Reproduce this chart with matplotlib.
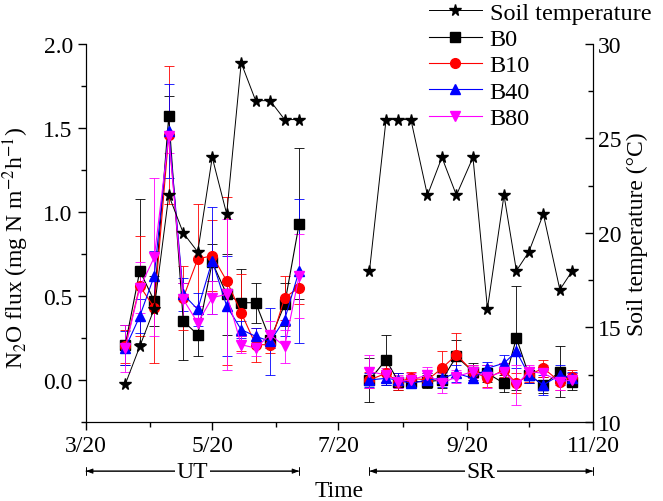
import matplotlib
matplotlib.use('Agg')
import matplotlib.pyplot as plt
import matplotlib.dates as mdates
from matplotlib.ticker import MultipleLocator, FuncFormatter
import pandas as pd

plt.rcParams['font.family'] = ['Liberation Serif', 'DejaVu Serif']
plt.rcParams['mathtext.fontset'] = 'stix'

# sampling dates, upland period (UT) and second period (SR)
ut_dates = ['4/8', '4/15', '4/22', '4/29', '5/6', '5/13', '5/20', '5/27',
            '6/3', '6/10', '6/17', '6/24', '7/1']
sr_dates = ['8/4', '8/12', '8/18', '8/24', '9/1', '9/8', '9/15', '9/23',
            '9/30', '10/8', '10/14', '10/20', '10/27', '11/4', '11/10']

# soil temperature (deg C)
ut_temp = [12, 14, 16, 22, 20, 19, 24, 21, 29, 27, 27, 26, 26]
sr_temp = [18, 26, 26, 26, 22, 24, 22, 24, 16, 22, 18, 19, 21, 17, 18]

# N2O flux (mg N m-2 h-1), mean and error
ut_b0 = [0.21, 0.65, 0.47, 1.57, 0.35, 0.27, 0.70, 0.51, 0.46, 0.46, 0.24, 0.45, 0.93]
ut_b0_err = [0.12, 0.43, 0.15, 0.12, 0.23, 0.13, 0.11, 0.24, 0.2, 0.12, 0.05, 0.13, 0.45]
ut_b10 = [0.20, 0.56, 0.43, 1.46, 0.49, 0.72, 0.74, 0.59, 0.40, 0.21, 0.21, 0.49, 0.55]
ut_b10_err = [0.1, 0.3, 0.33, 0.41, 0.19, 0.33, 0.21, 0.5, 0.23, 0.1, 0.05, 0.13, 0.1]
ut_b40 = [0.19, 0.38, 0.62, 1.48, 0.51, 0.42, 0.71, 0.44, 0.30, 0.26, 0.23, 0.36, 0.65]
ut_b40_err = [0.1, 0.1, 0.15, 0.28, 0.1, 0.1, 0.32, 0.3, 0.05, 0.05, 0.2, 0.1, 0.43]
ut_b80 = [0.19, 0.55, 0.73, 1.45, 0.48, 0.34, 0.49, 0.51, 0.21, 0.19, 0.27, 0.20, 0.62]
ut_b80_err = [0.14, 0.15, 0.47, 0.1, 0.1, 0.1, 0.1, 0.45, 0.05, 0.05, 0.08, 0.1, 0.25]

sr_b0 = [0.0, 0.12, -0.01, -0.01, -0.01, 0.0, 0.14, 0.05, 0.04, -0.02, 0.25, 0.03, -0.03, 0.05, -0.01]
sr_b0_err = [0.13, 0.15, 0.05, 0.04, 0.04, 0.05, 0.1, 0.05, 0.05, 0.05, 0.31, 0.05, 0.05, 0.15, 0.05]
sr_b10 = [0.0, 0.04, -0.01, 0.01, 0.0, 0.07, 0.15, 0.05, 0.01, 0.06, -0.02, 0.03, 0.07, -0.01, 0.02]
sr_b10_err = [0.05, 0.05, 0.05, 0.04, 0.04, 0.1, 0.13, 0.04, 0.05, 0.04, 0.06, 0.04, 0.05, 0.05, 0.04]
sr_b40 = [0.0, 0.01, 0.0, -0.02, 0.0, 0.01, 0.04, 0.01, 0.07, 0.10, 0.17, 0.03, -0.03, 0.03, 0.01]
sr_b40_err = [0.04, 0.04, 0.04, 0.03, 0.04, 0.05, 0.05, 0.03, 0.04, 0.05, 0.1, 0.05, 0.06, 0.06, 0.04]
sr_b80 = [0.05, 0.03, -0.01, 0.0, 0.03, -0.02, 0.02, 0.05, 0.02, 0.05, -0.03, 0.05, 0.04, -0.01, 0.0]
sr_b80_err = [0.1, 0.04, 0.04, 0.04, 0.05, 0.06, 0.04, 0.04, 0.07, 0.05, 0.12, 0.04, 0.05, 0.05, 0.04]


def to_dates(labels):
    return pd.to_datetime(['2015/' + d for d in labels], format='%Y/%m/%d')


ut_x = to_dates(ut_dates)
sr_x = to_dates(sr_dates)

series = [
    ('B0', 'black', 's', 6.5, ut_b0, ut_b0_err, sr_b0, sr_b0_err),
    ('B10', 'red', 'o', 7, ut_b10, ut_b10_err, sr_b10, sr_b10_err),
    ('B40', 'blue', '^', 7, ut_b40, ut_b40_err, sr_b40, sr_b40_err),
    ('B80', 'magenta', 'v', 7, ut_b80, ut_b80_err, sr_b80, sr_b80_err),
]

fig = plt.figure(figsize=(6.63, 5.02), dpi=100)
ax = fig.add_axes([0.1297, 0.1574, 0.7647, 0.753])
ax2 = ax.twinx()

handles = []
for name, color, marker, ms, ut_v, ut_e, sr_v, sr_e in series:
    for x, v, e in ((ut_x, ut_v, ut_e), (sr_x, sr_v, sr_e)):
        h = ax.errorbar(x, v, yerr=e, color=color, marker=marker, ms=ms,
                        lw=0.8, elinewidth=0.6, capsize=3.5, capthick=0.6,
                        label=name)
    handles.append(h[0])

for x, t in ((ut_x, ut_temp), (sr_x, sr_temp)):
    st, = ax2.plot(x, t, color='black', marker='*', ms=8.5, lw=0.7,
                   label='Soil temperature')

ax.set_xlim(pd.Timestamp('2015-03-20'), pd.Timestamp('2015-11-20'))
ax.set_ylim(-0.25, 2.0)
ax2.set_ylim(10, 30)

ax.xaxis.set_major_locator(mdates.MonthLocator(bymonth=[3, 5, 7, 9, 11], bymonthday=20))
ax.xaxis.set_minor_locator(mdates.MonthLocator(bymonthday=20))
ax.xaxis.set_major_formatter(FuncFormatter(lambda v, p: '%d/20' % mdates.num2date(v).month))
ax.yaxis.set_major_locator(MultipleLocator(0.5))
ax.yaxis.set_minor_locator(MultipleLocator(0.25))
ax.yaxis.set_major_formatter(FuncFormatter(lambda v, p: '%.1f' % v))
ax2.yaxis.set_major_locator(MultipleLocator(5))
ax2.yaxis.set_minor_locator(MultipleLocator(2.5))

ax.tick_params(axis='both', which='major', direction='out', length=6, width=1, labelsize=17)
ax.tick_params(axis='both', which='minor', direction='out', length=3.5, width=1)
ax2.tick_params(axis='y', which='major', direction='in', length=6, width=1, labelsize=17)
ax2.tick_params(axis='y', which='minor', direction='in', length=3.5, width=1)
for a in (ax, ax2):
    a.spines['top'].set_visible(False)

ax.set_ylabel('N$_2$O flux (mg N m$^{-2}$h$^{-1}$)', fontsize=17)
ax.yaxis.set_label_coords(-0.108, 0.463)
ax2.set_ylabel('Soil temperature (\u00b0C)', fontsize=17)
ax.set_xlabel('Time', fontsize=17, labelpad=17)

# period brackets below the axis
tr = ax.get_xaxis_transform()
for start, end, name in (('2015-03-20', '2015-07-01', 'UT'),
                         ('2015-08-04', '2015-11-20', 'SR')):
    x0 = mdates.date2num(pd.Timestamp(start))
    x1 = mdates.date2num(pd.Timestamp(end))
    mid = (x0 + x1) / 2
    ax.annotate('', xy=(x0, -0.13), xytext=(x1, -0.13), xycoords=tr,
                textcoords=tr, annotation_clip=False,
                arrowprops=dict(arrowstyle='|-|, widthA=0.3, widthB=0.3', lw=0.7,
                                shrinkA=0, shrinkB=0))
    ax.annotate('', xy=(x0, -0.13), xytext=(x1, -0.13), xycoords=tr,
                textcoords=tr, annotation_clip=False,
                arrowprops=dict(arrowstyle='<|-|>, head_length=0.4, head_width=0.15',
                                lw=0.7, color='black', shrinkA=0, shrinkB=0))
    ax.text(mid, -0.13, name, transform=tr, ha='center', va='center', fontsize=17,
            bbox=dict(facecolor='white', edgecolor='none', pad=1), clip_on=False)

fig.legend([st] + handles, ['Soil temperature', 'B0', 'B10', 'B40', 'B80'],
           loc='upper left', bbox_to_anchor=(0.632, 1.014), frameon=False,
           fontsize=17.5, labelspacing=0.18, handlelength=2.2, handletextpad=0.3,
           borderaxespad=0)

fig.savefig('out.png', dpi=100)
